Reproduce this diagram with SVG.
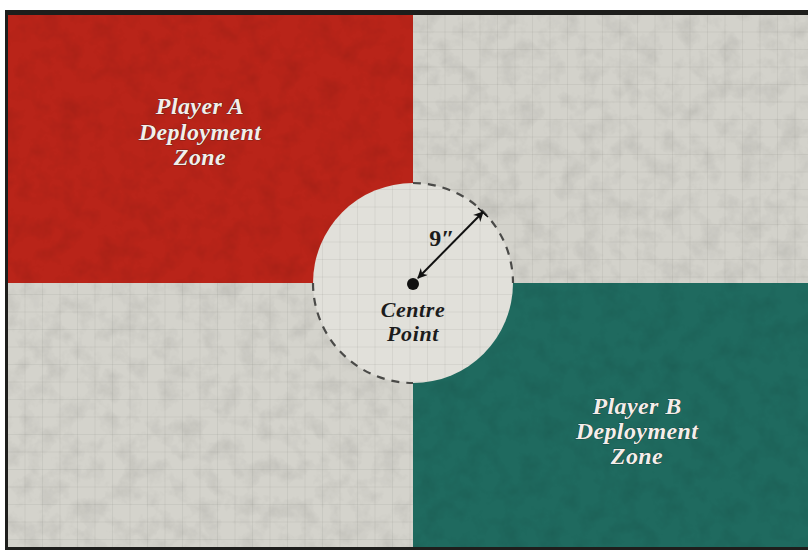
<svg xmlns="http://www.w3.org/2000/svg" width="808" height="550" viewBox="0 0 808 550">
<defs>
<style>
.zone{font-family:"Liberation Serif","DejaVu Serif",serif;font-weight:bold;font-style:italic;font-size:24px;letter-spacing:0.4px;fill:#f4eeea;text-anchor:middle;stroke:#3a1a14;stroke-width:0.7;paint-order:stroke}
.zoneB{stroke:#0c2e28}
.dark{font-family:"Liberation Serif","DejaVu Serif",serif;font-weight:bold;font-style:italic;font-size:22px;letter-spacing:0.6px;fill:#1c1c1c;text-anchor:middle}
.nine{font-family:"Liberation Serif","DejaVu Serif",serif;font-weight:bold;font-size:24px;fill:#1c1c1c;text-anchor:middle}
.dash{fill:none;stroke:#4a4a48;stroke-width:2.2;stroke-dasharray:8 7}
.arrow{stroke:#111;stroke-width:2;fill:none}
</style>
<pattern id="grid" width="17.5" height="17.5" patternUnits="userSpaceOnUse" x="8" y="15">
<path d="M17.5 0V17.5M0 17.5H17.5" fill="none" stroke="#8a8a84" stroke-width="0.8" stroke-opacity="0.35"/>
</pattern>
<filter id="tex" x="0" y="0" width="100%" height="100%">
<feTurbulence type="fractalNoise" baseFrequency="0.05" numOctaves="4" seed="3" result="n"/>
<feColorMatrix in="n" type="matrix" values="0 0 0 0 0  0 0 0 0 0  0 0 0 0 0  0 0 0 -1.2 0.7" result="a"/>
<feComposite in="a" in2="SourceGraphic" operator="in"/>
</filter>
<marker id="ah" viewBox="0 0 10 10" refX="9" refY="5" markerWidth="12" markerHeight="10" orient="auto-start-reverse" markerUnits="userSpaceOnUse">
<path d="M0 0L10 5L0 10L3 5Z" fill="#111"/>
</marker>
</defs>
<rect x="0" y="0" width="808" height="550" fill="#ffffff"/>
<rect x="5" y="10" width="803" height="540" fill="#1e1e1c"/>
<g id="zoneA">
<rect x="8" y="15" width="405" height="268" fill="#b92419"/>
</g>
<g id="greyTR">
<rect x="413" y="15" width="395" height="268" fill="#d3d2cb"/>
<rect x="413" y="15" width="395" height="268" fill="url(#grid)"/>
</g>
<g id="greyBL">
<rect x="8" y="283" width="405" height="264" fill="#d4d3cc"/>
<rect x="8" y="283" width="405" height="264" fill="url(#grid)"/>
</g>
<g id="zoneB">
<rect x="413" y="283" width="395" height="264" fill="#1f6a5f"/>
</g>
<g id="texture" opacity="0.13">
<rect x="8" y="15" width="800" height="532" fill="#000" filter="url(#tex)"/>
</g>
<g id="circle">
<circle cx="413" cy="283" r="100" fill="#e1e0da"/>
<circle cx="413" cy="283" r="100" fill="url(#grid)"/>
</g>
<g id="connectors">
<path class="dash" d="M413 183A100 100 0 0 1 513 283"/>
<path class="dash" d="M313 283A100 100 0 0 0 413 383"/>
<line class="arrow" x1="418" y1="278" x2="483" y2="212" marker-start="url(#ah)" marker-end="url(#ah)"/>
<line x1="478" y1="208" x2="488" y2="217" stroke="#111" stroke-width="1.5"/>
</g>
<g id="centre">
<circle cx="413" cy="284" r="6" fill="#111"/>
<text class="dark" x="413" y="317">Centre</text>
<text class="dark" x="413" y="341">Point</text>
<text class="nine" x="442" y="246">9″</text>
</g>
<g id="labelA">
<text class="zone" x="200" y="114">Player A</text>
<text class="zone" x="200" y="140">Deployment</text>
<text class="zone" x="200" y="165">Zone</text>
</g>
<g id="labelB">
<text class="zone zoneB" x="637" y="414">Player B</text>
<text class="zone zoneB" x="637" y="439">Deployment</text>
<text class="zone zoneB" x="637" y="464">Zone</text>
</g>
</svg>
